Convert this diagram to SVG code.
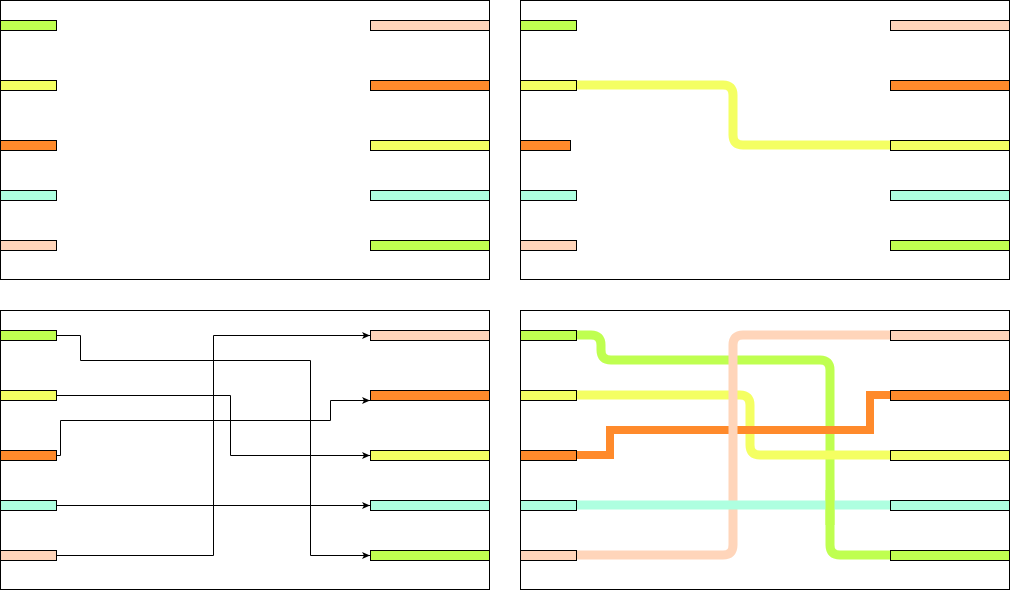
<svg xmlns="http://www.w3.org/2000/svg" width="1011" height="591" viewBox="0 0 1011 591">
<style>
.frame{fill:#fff;stroke:#000;stroke-width:1}
.bar{stroke:#000;stroke-width:1}
.lime{fill:#BFFF50}.yel{fill:#F4FF62}.org{fill:#FF8A2B}.aqua{fill:#AEFFE0}.pch{fill:#FFD5BA}
.conn{fill:none;stroke:#000;stroke-width:1}
.w{fill:none;stroke-width:9;stroke-linejoin:round}
</style>
<defs>
<marker id="arr" markerUnits="userSpaceOnUse" markerWidth="9" markerHeight="8" refX="8" refY="4" orient="auto">
<path d="M0,0.5 L8,4 L0,7.5 L2,4 Z" fill="#000"/>
</marker>
</defs>

<g id="frames">
<rect class="frame" x="0.5" y="0.5" width="489" height="279"/>
<rect class="frame" x="520.5" y="0.5" width="489" height="279"/>
<rect class="frame" x="0.5" y="310.5" width="489" height="279"/>
<rect class="frame" x="520.5" y="310.5" width="489" height="279"/>
</g>

<g id="connectors">
<path d="M576,85 H723 Q733,85 733,95 V135 Q733,145 743,145 H890" class="w" stroke="#F4FF62"/>
<path class="conn" d="M56,335.5 H80.5 V360.5 H310.5 V555.5 H370" marker-end="url(#arr)"/>
<path class="conn" d="M56,395.5 H230.5 V455.5 H370" marker-end="url(#arr)"/>
<path class="conn" d="M56,455.5 H60.5 V420.5 H330.5 V400.5 H370" marker-end="url(#arr)"/>
<path class="conn" d="M56,505.5 H370" marker-end="url(#arr)"/>
<path class="conn" d="M56,555.5 H213.5 V335.5 H370" marker-end="url(#arr)"/>
<path d="M576,335 H591 Q601,335 601,345 V350 Q601,360 611,360 H820 Q830,360 830,370 V545 Q830,555 840,555 H890" class="w" stroke="#BFFF50"/>
<path d="M576,395 H740 Q750,395 750,405 V445 Q750,455 760,455 H890" class="w" stroke="#F4FF62"/>
<path d="M576,455 H610 V430 H870 V395 H890" fill="none" stroke="#FF8A2B" stroke-width="8" stroke-linejoin="miter"/>
<path d="M576,555 H723 Q733,555 733,545 V345 Q733,335 743,335 H890" class="w" stroke="#FFD5BA"/>
<path d="M576,505 H890" class="w" stroke="#AEFFE0"/>
<path d="M830,490 V525" class="w" stroke="#BFFF50"/>
</g>

<g id="tl-left-1"><rect class="bar lime" x="0.5" y="20.5" width="56" height="10"/></g>
<g id="tl-left-2"><rect class="bar yel" x="0.5" y="80.5" width="56" height="10"/></g>
<g id="tl-left-3"><rect class="bar org" x="0.5" y="140.5" width="56" height="10"/></g>
<g id="tl-left-4"><rect class="bar aqua" x="0.5" y="190.5" width="56" height="10"/></g>
<g id="tl-left-5"><rect class="bar pch" x="0.5" y="240.5" width="56" height="10"/></g>
<g id="tl-right-1"><rect class="bar pch" x="370.5" y="20.5" width="119" height="10"/></g>
<g id="tl-right-2"><rect class="bar org" x="370.5" y="80.5" width="119" height="10"/></g>
<g id="tl-right-3"><rect class="bar yel" x="370.5" y="140.5" width="119" height="10"/></g>
<g id="tl-right-4"><rect class="bar aqua" x="370.5" y="190.5" width="119" height="10"/></g>
<g id="tl-right-5"><rect class="bar lime" x="370.5" y="240.5" width="119" height="10"/></g>

<g id="tr-left-1"><rect class="bar lime" x="520.5" y="20.5" width="56" height="10"/></g>
<g id="tr-left-2"><rect class="bar yel" x="520.5" y="80.5" width="56" height="10"/></g>
<g id="tr-left-3"><rect class="bar org" x="520.5" y="140.5" width="50" height="10"/></g>
<g id="tr-left-4"><rect class="bar aqua" x="520.5" y="190.5" width="56" height="10"/></g>
<g id="tr-left-5"><rect class="bar pch" x="520.5" y="240.5" width="56" height="10"/></g>
<g id="tr-right-1"><rect class="bar pch" x="890.5" y="20.5" width="119" height="10"/></g>
<g id="tr-right-2"><rect class="bar org" x="890.5" y="80.5" width="119" height="10"/></g>
<g id="tr-right-3"><rect class="bar yel" x="890.5" y="140.5" width="119" height="10"/></g>
<g id="tr-right-4"><rect class="bar aqua" x="890.5" y="190.5" width="119" height="10"/></g>
<g id="tr-right-5"><rect class="bar lime" x="890.5" y="240.5" width="119" height="10"/></g>

<g id="bl-left-1"><rect class="bar lime" x="0.5" y="330.5" width="56" height="10"/></g>
<g id="bl-left-2"><rect class="bar yel" x="0.5" y="390.5" width="56" height="10"/></g>
<g id="bl-left-3"><rect class="bar org" x="0.5" y="450.5" width="56" height="10"/></g>
<g id="bl-left-4"><rect class="bar aqua" x="0.5" y="500.5" width="56" height="10"/></g>
<g id="bl-left-5"><rect class="bar pch" x="0.5" y="550.5" width="56" height="10"/></g>
<g id="bl-right-1"><rect class="bar pch" x="370.5" y="330.5" width="119" height="10"/></g>
<g id="bl-right-2"><rect class="bar org" x="370.5" y="390.5" width="119" height="10"/></g>
<g id="bl-right-3"><rect class="bar yel" x="370.5" y="450.5" width="119" height="10"/></g>
<g id="bl-right-4"><rect class="bar aqua" x="370.5" y="500.5" width="119" height="10"/></g>
<g id="bl-right-5"><rect class="bar lime" x="370.5" y="550.5" width="119" height="10"/></g>

<g id="br-left-1"><rect class="bar lime" x="520.5" y="330.5" width="56" height="10"/></g>
<g id="br-left-2"><rect class="bar yel" x="520.5" y="390.5" width="56" height="10"/></g>
<g id="br-left-3"><rect class="bar org" x="520.5" y="450.5" width="56" height="10"/></g>
<g id="br-left-4"><rect class="bar aqua" x="520.5" y="500.5" width="56" height="10"/></g>
<g id="br-left-5"><rect class="bar pch" x="520.5" y="550.5" width="56" height="10"/></g>
<g id="br-right-1"><rect class="bar pch" x="890.5" y="330.5" width="119" height="10"/></g>
<g id="br-right-2"><rect class="bar org" x="890.5" y="390.5" width="119" height="10"/></g>
<g id="br-right-3"><rect class="bar yel" x="890.5" y="450.5" width="119" height="10"/></g>
<g id="br-right-4"><rect class="bar aqua" x="890.5" y="500.5" width="119" height="10"/></g>
<g id="br-right-5"><rect class="bar lime" x="890.5" y="550.5" width="119" height="10"/></g>
</svg>
